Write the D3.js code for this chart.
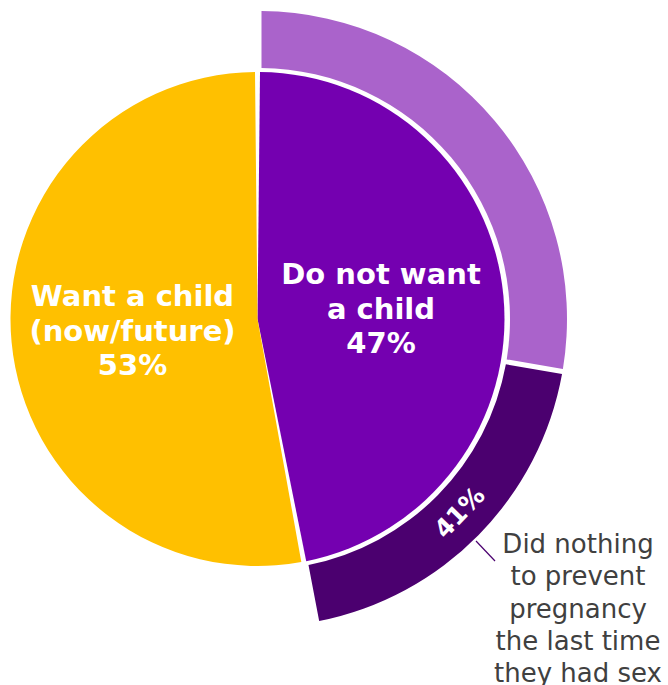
<!DOCTYPE html>
<html>
<head>
<meta charset="utf-8">
<script src="https://cdn.jsdelivr.net/npm/d3@7/dist/d3.min.js"></script>
<style>
  html, body { margin: 0; padding: 0; background: #fff; }
  svg { display: block; }
</style>
</head>
<body>
<svg id="chart" width="668" height="685"></svg>
<script>
// Inner pie: share of respondents
const categories = ["Do not want a child", "Want a child (now/future)"];
const values = [47, 53];
const labelLines = [["Do not want", "a child", "47%"], ["Want a child", "(now/future)", "53%"]];

// Outer ring: breakdown of "Do not want a child"
const subCategories = ["Did something", "Did nothing to prevent pregnancy the last time they had sex"];
const subShares = [59, 41];
const subLabel = "41%";
const annotationLines = ["Did nothing", "to prevent", "pregnancy", "the last time", "they had sex"];

const colors = { "Do not want a child": "#7400B0", "Want a child (now/future)": "#FFC000" };
const ringColors = ["#AA63CB", "#4B006F"];

const svg = d3.select("#chart");
const cx = 257.5, cy = 319, R = 247;
const ringInner = 251, ringOuter = 308;

const pie = d3.pie().sort(null).value(d => d.v);
const arcs = pie(categories.map((c, i) => ({ c, v: values[i], lines: labelLines[i] })));

const arc = d3.arc().innerRadius(0).outerRadius(R).padAngle(0.05).padRadius(100);

const g = svg.append("g").attr("transform", `translate(${cx},${cy})`);
g.selectAll("path.slice").data(arcs).join("path")
  .attr("class", "slice")
  .attr("d", arc)
  .attr("fill", d => colors[d.data.c]);

// Ring
const parent = arcs[0];
const ringPie = d3.pie().sort(null).value(d => d)
  .startAngle(parent.startAngle).endAngle(parent.endAngle);
const ringArcs = ringPie(subShares);
const ringArc = d3.arc().innerRadius(ringInner).outerRadius(ringOuter).padAngle(0.05).padRadius(100);

const rg = svg.append("g").attr("transform", `translate(${cx + 1.5},${cy})`);
rg.selectAll("path.ring").data(ringArcs).join("path")
  .attr("class", "ring")
  .attr("d", ringArc)
  .attr("fill", (d, i) => ringColors[i]);

// Inner labels
const labelPos = [[381, 284], [132.5, 306]];
const lineH = 34.5;
arcs.forEach((a, i) => {
  const t = svg.append("text")
    .attr("x", labelPos[i][0]).attr("y", labelPos[i][1])
    .attr("text-anchor", "middle")
    .attr("fill", "#fff")
    .attr("font-family", "DejaVu Sans, Verdana, sans-serif")
    .attr("font-weight", "bold")
    .attr("font-size", 29);
  a.data.lines.forEach((l, j) => {
    t.append("tspan").attr("x", labelPos[i][0]).attr("dy", j === 0 ? 0 : lineH).text(l);
  });
});

// Ring label (rotated along the dark segment)
const dark = ringArcs[1];
const mid = (dark.startAngle + dark.endAngle) / 2 - 0.01;
const rMid = (ringInner + ringOuter) / 2 - 1;
const lx = Math.sin(mid) * rMid, ly = -Math.cos(mid) * rMid;
const rot = mid * 180 / Math.PI - 180;
rg.append("text")
  .attr("transform", `translate(${lx},${ly}) rotate(${rot})`)
  .attr("text-anchor", "middle")
  .attr("dominant-baseline", "central")
  .attr("fill", "#fff")
  .attr("font-family", "DejaVu Sans, Verdana, sans-serif")
  .attr("font-weight", "bold")
  .attr("font-size", 25)
  .text(subLabel);

// Leader line and annotation
svg.append("line")
  .attr("x1", 476).attr("y1", 541).attr("x2", 495).attr("y2", 561)
  .attr("stroke", "#4B006F").attr("stroke-width", 1.2);

const at = svg.append("text")
  .attr("x", 578).attr("y", 553)
  .attr("text-anchor", "middle")
  .attr("fill", "#404040")
  .attr("font-family", "DejaVu Sans, Verdana, sans-serif")
  .attr("font-size", 26);
annotationLines.forEach((l, j) => {
  at.append("tspan").attr("x", 578).attr("dy", j === 0 ? 0 : 32.3).text(l);
});
</script>
</body>
</html>
